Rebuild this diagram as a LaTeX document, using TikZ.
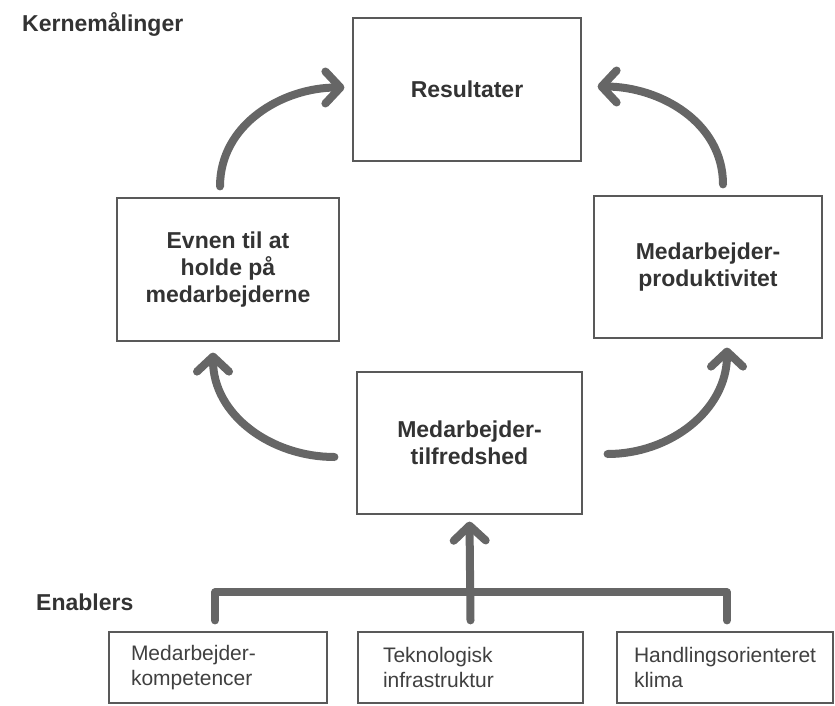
\documentclass[tikz,border=0pt]{standalone}
\usepackage{fontspec}
\setmainfont{Liberation Sans}
\usetikzlibrary{arrows.meta}

\begin{document}
\begin{tikzpicture}[x=1pt,y=-1pt,
    box/.style={draw=black!65, line width=1.2pt, align=center,
      font=\fontsize{23}{27}\selectfont\bfseries, text=black!80},
    enabler/.style={draw=black!65, line width=1.2pt, align=left,
      minimum height=71pt, text=black!75, font=\fontsize{21}{25}\selectfont},
    flow/.style={draw=black!60, line width=8pt, line cap=round,
      -{Straight Barb[round,length=15pt,width=32pt]}},
    bar/.style={draw=black!60, line width=8pt, line cap=round, line join=round}]
  \useasboundingbox (0,0) rectangle (835,706);
  % kernemaalinger
  \node[anchor=west, inner sep=0pt, font=\fontsize{23}{27}\selectfont\bfseries, text=black!80]
    (kerne) at (22,24) {Kernemålinger};
  \node[box, minimum width=228pt, minimum height=143pt] (resultater) at (467,89.5) {Resultater};
  \node[box, minimum width=222pt, minimum height=143pt] (evnen) at (228,269.5)
    {Evnen til at\\holde på\\medarbejderne};
  \node[box, minimum width=228pt, minimum height=142pt] (prod) at (708,267)
    {Medarbejder-\\produktivitet};
  \node[box, minimum width=225pt, minimum height=142pt] (tilf) at (469.5,443)
    {Medarbejder-\\tilfredshed};
  % enablers
  \node[anchor=west, inner sep=0pt, font=\fontsize{23}{27}\selectfont\bfseries, text=black!80]
    (enablers) at (36,602) {Enablers};
  \node[enabler, text width=174pt, inner xsep=22pt] (kompetence) at (218,667.5)
    {Medarbejder-\\kompetencer};
  \node[enabler, text width=175pt, inner xsep=25pt] (infra) at (470.5,667.5)
    {Teknologisk\\infrastruktur};
  \node[enabler, text width=182pt, inner xsep=17pt] (klima) at (725,667.5)
    {Handlingsorienteret\\klima};
  % pile
  \draw[flow] ([shift={(-8,-11)}]evnen.north) to[out=90,in=180] ([shift={(-8,-2)}]resultater.west);
  \draw[flow] ([shift={(15,-11)}]prod.north) to[out=90,in=0] ([shift={(16,-3)}]resultater.east);
  \draw[flow] ([shift={(-22,14)}]tilf.west) to[out=180,in=270] ([shift={(-15,11)}]evnen.south);
  \draw[flow] ([shift={(25,11)}]tilf.east) to[out=0,in=270] ([shift={(19,9)}]prod.south);
  % klamme
  \coordinate (b1) at ([shift={(-3,-11)}]kompetence.north);
  \coordinate (b2) at ([shift={(0,-11)}]infra.north);
  \coordinate (b3) at ([shift={(2,-11)}]klima.north);
  \draw[bar] (b1) -- ++(0,-28) -| (b3);
  \draw[flow] (b2) -- ([yshift=-7pt]tilf.south);
\end{tikzpicture}
\end{document}
